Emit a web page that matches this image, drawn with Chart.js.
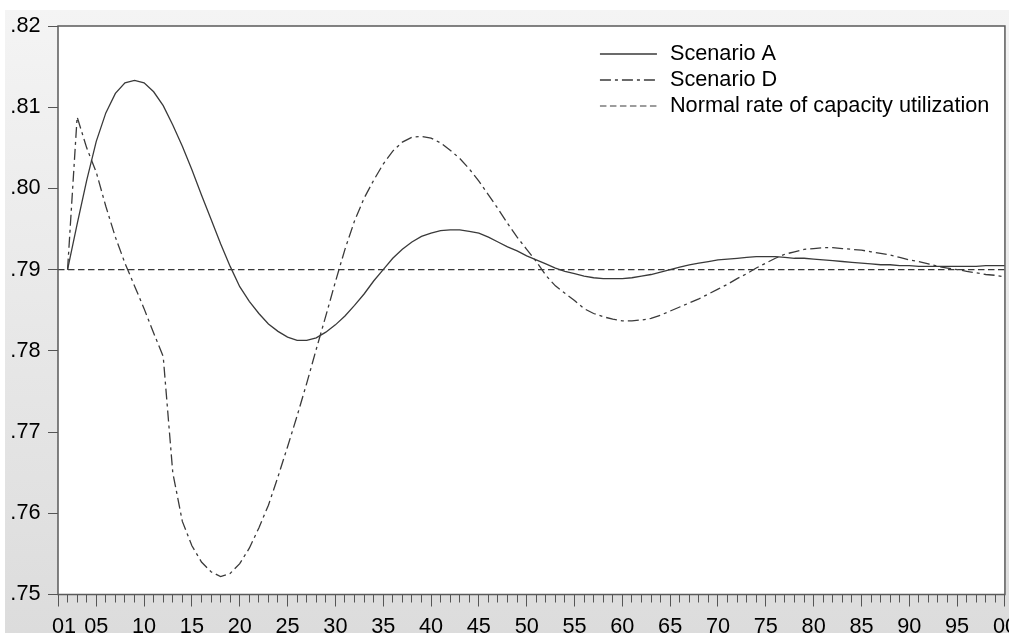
<!DOCTYPE html>
<html>
<head>
<meta charset="utf-8">
<script src="https://cdn.jsdelivr.net/npm/chart.js@4.4.1/dist/chart.umd.min.js"></script>
<style>
html,body{margin:0;padding:0;overflow:hidden;background:#fff;width:1009px;height:633px;}
#wrap{position:absolute;left:0;top:0;width:1025px;height:633px;}
</style>
</head>
<body>
<div id="wrap"><canvas id="c"></canvas></div>
<script>
// ---- data ----
const years = [
  2001,2002,2003,2004,2005,2006,2007,2008,2009,2010,
  2011,2012,2013,2014,2015,2016,2017,2018,2019,2020,
  2021,2022,2023,2024,2025,2026,2027,2028,2029,2030,
  2031,2032,2033,2034,2035,2036,2037,2038,2039,2040,
  2041,2042,2043,2044,2045,2046,2047,2048,2049,2050,
  2051,2052,2053,2054,2055,2056,2057,2058,2059,2060,
  2061,2062,2063,2064,2065,2066,2067,2068,2069,2070,
  2071,2072,2073,2074,2075,2076,2077,2078,2079,2080,
  2081,2082,2083,2084,2085,2086,2087,2088,2089,2090,
  2091,2092,2093,2094,2095,2096,2097,2098,2099,2100
];
const scenarioA = [
  null,0.7900,0.7956,0.8010,0.8058,0.8093,0.8117,0.8130,0.8133,0.8130,
  0.8119,0.8102,0.8078,0.8052,0.8023,0.7992,0.7962,0.7932,0.7904,0.7879,
  0.7861,0.7846,0.7833,0.7824,0.7817,0.7813,0.7813,0.7816,0.7823,0.7832,
  0.7843,0.7856,0.7870,0.7886,0.7900,0.7914,0.7925,0.7934,0.7941,0.7945,
  0.7948,0.7949,0.7949,0.7947,0.7945,0.7940,0.7934,0.7928,0.7923,0.7917,
  0.7912,0.7907,0.7902,0.7898,0.7895,0.7892,0.7890,0.7889,0.7889,0.7889,
  0.7890,0.7892,0.7894,0.7897,0.7900,0.7903,0.7906,0.7908,0.7910,0.7912,
  0.7913,0.7914,0.7915,0.7916,0.7916,0.7916,0.7915,0.7914,0.7914,0.7913,
  0.7912,0.7911,0.7910,0.7909,0.7908,0.7907,0.7906,0.7906,0.7905,0.7905,
  0.7904,0.7904,0.7904,0.7904,0.7904,0.7904,0.7904,0.7905,0.7905,0.7905
];
const scenarioD = [
  null,0.7900,0.8088,0.8050,0.8020,0.7978,0.7940,0.7908,0.7880,0.7852,
  0.7822,0.7793,0.7650,0.7590,0.7560,0.7540,0.7528,0.7522,0.7526,0.7538,
  0.7557,0.7582,0.7610,0.7645,0.7682,0.7720,0.7760,0.7802,0.7843,0.7885,
  0.7925,0.7960,0.7988,0.8010,0.8030,0.8046,0.8057,0.8063,0.8064,0.8062,
  0.8056,0.8047,0.8037,0.8024,0.8009,0.7992,0.7975,0.7957,0.7940,0.7925,
  0.7910,0.7893,0.7880,0.7871,0.7862,0.7852,0.7846,0.7842,0.7839,0.7837,
  0.7837,0.7838,0.7840,0.7844,0.7849,0.7854,0.7859,0.7864,0.7870,0.7876,
  0.7882,0.7889,0.7895,0.7902,0.7908,0.7914,0.7919,0.7922,0.7925,0.7926,
  0.7927,0.7927,0.7926,0.7925,0.7924,0.7922,0.7920,0.7918,0.7915,0.7912,
  0.7910,0.7907,0.7904,0.7902,0.7900,0.7898,0.7896,0.7894,0.7893,0.7891
];
const normalRate = [
  0.79,0.79,0.79,0.79,0.79,0.79,0.79,0.79,0.79,0.79,
  0.79,0.79,0.79,0.79,0.79,0.79,0.79,0.79,0.79,0.79,
  0.79,0.79,0.79,0.79,0.79,0.79,0.79,0.79,0.79,0.79,
  0.79,0.79,0.79,0.79,0.79,0.79,0.79,0.79,0.79,0.79,
  0.79,0.79,0.79,0.79,0.79,0.79,0.79,0.79,0.79,0.79,
  0.79,0.79,0.79,0.79,0.79,0.79,0.79,0.79,0.79,0.79,
  0.79,0.79,0.79,0.79,0.79,0.79,0.79,0.79,0.79,0.79,
  0.79,0.79,0.79,0.79,0.79,0.79,0.79,0.79,0.79,0.79,
  0.79,0.79,0.79,0.79,0.79,0.79,0.79,0.79,0.79,0.79,
  0.79,0.79,0.79,0.79,0.79,0.79,0.79,0.79,0.79,0.79
];
const seriesNames = ['Scenario A','Scenario D','Normal rate of capacity utilization'];
const xTickYears  = [2001,2005,2010,2015,2020,2025,2030,2035,2040,2045,2050,2055,2060,2065,2070,2075,2080,2085,2090,2095,2100];
const xTickLabels = ['01','05','10','15','20','25','30','35','40','45','50','55','60','65','70','75','80','85','90','95','00'];
const yTickValues = [0.75,0.76,0.77,0.78,0.79,0.80,0.81,0.82];
const yTickLabels = ['.75','.76','.77','.78','.79','.80','.81','.82'];

// ---- styling ----
const FONT = '"Liberation Sans", Arial, Helvetica, sans-serif';
const FSIZE = 21.7;
Chart.defaults.font.family = FONT;
const LINE = '#3a3a3a';
const TICK = '#555555';

const framePlugin = {
  id: 'frame',
  beforeDraw(chart) {
    const {ctx, width, height, chartArea: a} = chart;
    ctx.save();
    ctx.fillStyle = '#ffffff';
    ctx.fillRect(0, 0, width, height);
    const g = ctx.createLinearGradient(0, 10, 0, height);
    g.addColorStop(0, '#f4f4f4');
    g.addColorStop(1, '#dcdcdc');
    ctx.fillStyle = g;
    ctx.fillRect(5, 10, width - 5, height - 10);
    ctx.fillStyle = '#ffffff';
    ctx.fillRect(a.left, a.top, a.right - a.left, a.bottom - a.top);
    ctx.restore();
  },
  afterDraw(chart) {
    const {ctx, chartArea: a} = chart;
    ctx.save();
    ctx.strokeStyle = '#5a5a5a';
    ctx.lineWidth = 1.5;
    ctx.setLineDash([]);
    ctx.strokeRect(a.left, a.top, a.right - a.left, a.bottom - a.top);
    // legend
    const lx = a.right - 405, ly = a.top + 28;
    chart.data.datasets.forEach((ds, i) => {
      const y = ly + i * 26;
      ctx.strokeStyle = ds.borderColor;
      ctx.lineWidth = ds.borderWidth;
      ctx.setLineDash(ds.borderDash || []);
      ctx.beginPath();
      ctx.moveTo(lx, y);
      ctx.lineTo(lx + 57, y);
      ctx.stroke();
      ctx.setLineDash([]);
      ctx.fillStyle = '#000000';
      ctx.font = FSIZE + 'px ' + FONT;
      ctx.textBaseline = 'middle';
      ctx.textAlign = 'left';
      ctx.fillText(ds.label, lx + 70, y);
    });
    ctx.restore();
  }
};

new Chart(document.getElementById('c'), {
  type: 'line',
  data: {
    labels: years,
    datasets: [
      {label: seriesNames[0], data: scenarioA, borderColor: LINE, borderWidth: 1.3,
       pointRadius: 0, tension: 0, fill: false},
      {label: seriesNames[1], data: scenarioD, borderColor: LINE, borderWidth: 1.3,
       borderDash: [11, 4, 3, 4], pointRadius: 0, tension: 0, fill: false},
      {label: seriesNames[2], data: normalRate, borderColor: LINE, borderWidth: 1.2,
       borderDash: [6.5, 3.5], pointRadius: 0, tension: 0, fill: false}
    ]
  },
  options: {
    responsive: true,
    maintainAspectRatio: false,
    animation: false,
    events: [],
    layout: {padding: {left: 0, top: 26, right: 0, bottom: 0}},
    plugins: {legend: {display: false}, tooltip: {enabled: false}},
    scales: {
      x: {
        type: 'linear', position: 'bottom', min: 2001, max: 2100, weight: 0,
        afterBuildTicks(s) { s.ticks = years.map(v => ({value: v})); },
        ticks: {display: false, autoSkip: false},
        grid: {drawOnChartArea: false, drawTicks: true, tickLength: 8, color: TICK, lineWidth: 1},
        border: {display: false},
        afterFit(s) { s.height = 0; }
      },
      x2: {
        type: 'linear', position: 'bottom', min: 2001, max: 2100, weight: 1,
        afterBuildTicks(s) { s.ticks = xTickYears.map(v => ({value: v})); },
        ticks: {
          autoSkip: false, maxRotation: 0, minRotation: 0, padding: 8,
          color: '#000000', font: {size: FSIZE, family: FONT},
          callback: (v, i) => i === 0 ? '  ' + xTickLabels[0] : xTickLabels[i]
        },
        grid: {drawOnChartArea: false, drawTicks: true, tickLength: 12, color: TICK, lineWidth: 1},
        border: {display: false},
        afterFit(s) { s.height = 38.5; }
      },
      y: {
        type: 'linear', position: 'left', min: 0.75, max: 0.82,
        afterBuildTicks(s) { s.ticks = yTickValues.map(v => ({value: v})); },
        ticks: {
          padding: 7.5, color: '#000000', font: {size: FSIZE, family: FONT},
          callback: (v, i) => yTickLabels[i]
        },
        grid: {drawOnChartArea: false, drawTicks: true, tickLength: 10, color: TICK, lineWidth: 1},
        border: {display: false},
        afterFit(s) { s.width = 58; }
      }
    }
  },
  plugins: [framePlugin]
});
</script>
</body>
</html>
